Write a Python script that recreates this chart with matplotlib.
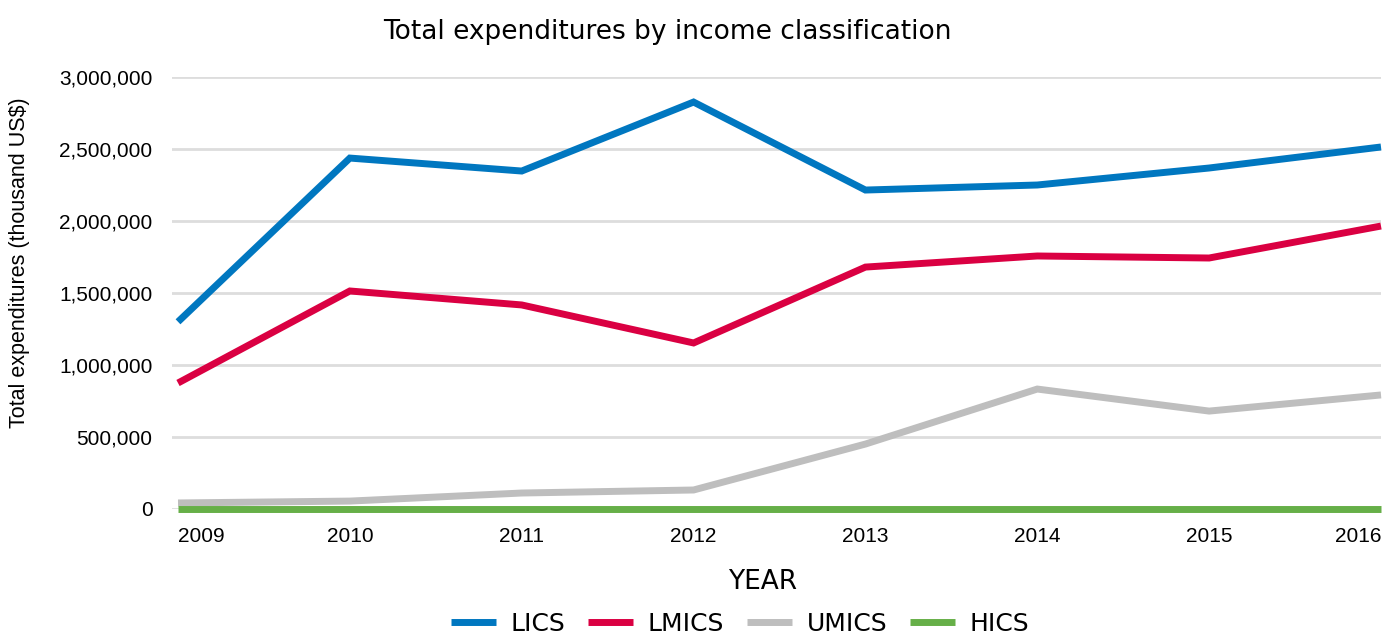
import matplotlib.pyplot as plt
from matplotlib.ticker import FuncFormatter

# data (thousand US$)
years = [2009, 2010, 2011, 2012, 2013, 2014, 2015, 2016]
lics = [1300000, 2437000, 2347000, 2826000, 2215000, 2250000, 2368000, 2514000]
lmics = [875000, 1514000, 1417000, 1153000, 1680000, 1757000, 1743000, 1965000]
umics = [42000, 55000, 111000, 132000, 451000, 833000, 680000, 792000]
hics = [0, 0, 0, 0, 0, 0, 0, 0]

series_names = ["LICS", "LMICS", "UMICS", "HICS"]
colors = ["#0077c0", "#da0042", "#bebebe", "#66af48"]

fig = plt.figure(figsize=(13.87, 6.35), dpi=100)
ax = fig.add_axes([172 / 1387, 1 - 509 / 635, (1381 - 172) / 1387, (509 - 77) / 635])

for vals, name, c in zip([lics, lmics, umics, hics], series_names, colors):
    ax.plot(years, vals, color=c, lw=5, label=name, clip_on=False,
            solid_capstyle="butt", solid_joinstyle="miter")

ax.set_xlim(2008.965, 2016)
ax.set_ylim(0, 3000000)
ax.set_yticks(range(0, 3000001, 500000))
ax.yaxis.set_major_formatter(FuncFormatter(lambda v, p: f"{int(v):,}"))
ax.set_xticks(years)
ax.set_xticklabels([str(y) for y in years])
ax.grid(axis="y", color="#dddddd", lw=2)
ax.set_axisbelow(True)
for s in ax.spines.values():
    s.set_visible(False)
ax.tick_params(length=0, labelsize=15)
ax.tick_params(axis="y", pad=14)
ax.tick_params(axis="x", pad=13)
for lab in ax.get_xticklabels() + ax.get_yticklabels():
    lab.set_fontfamily("Liberation Sans")
xl = ax.get_xticklabels()
xl[0].set_horizontalalignment("left")
xl[-1].set_horizontalalignment("right")

fig.text(20 / 1387, 1 - 263 / 635, "Total expenditures (thousand US$)", rotation=90,
         ha="center", va="center", fontsize=15.5, fontfamily="Liberation Sans")
fig.text(667 / 1387, 1 - 32 / 635, "Total expenditures by income classification",
         ha="center", va="center", fontsize=19)
fig.text(763 / 1387, 1 - 582 / 635, "YEAR", ha="center", va="center", fontsize=19)

fig.legend(loc="center", bbox_to_anchor=(740 / 1387, 1 - 624 / 635), ncol=4,
           frameon=False, fontsize=18, handlelength=1.8, columnspacing=0.9,
           handletextpad=0.6, borderpad=0)

fig.savefig("out.png", dpi=100)
